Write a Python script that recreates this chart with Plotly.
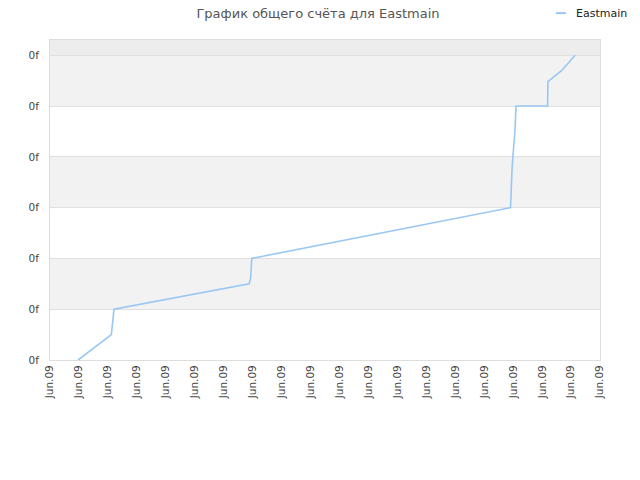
import plotly.graph_objects as go

# Score history for Eastmain (x in tick units, y in grid units)
score_x = [0.97, 2.12, 2.21, 6.88, 6.93, 6.97, 15.91, 15.93, 15.96, 15.99,
           16.06, 16.10, 17.19, 17.20, 17.68, 18.14]
score_y = [0.0, 0.5, 1.0, 1.5, 1.61, 2.0, 3.0, 3.5, 3.74, 4.0,
           4.49, 5.0, 5.0, 5.48, 5.7, 6.0]

x_ticks = list(range(20))
x_labels = ["Jun.09"] * 20
y_ticks = [0, 1, 2, 3, 4, 5, 6]
y_labels = ["0f"] * 7

line_color = "#99c7f4"

fig = go.Figure()
fig.add_trace(go.Scatter(
    x=score_x, y=score_y, mode="lines", name="Eastmain",
    line=dict(color=line_color, width=1.6), showlegend=False,
))

# alternating background bands
for lo in [1, 3, 5]:
    fig.add_shape(type="rect", xref="paper", yref="y", x0=0, x1=1, y0=lo, y1=lo + 1,
                  fillcolor="#f2f2f2", line_width=0, layer="below")
fig.add_shape(type="rect", xref="paper", yref="y", x0=0, x1=1, y0=6, y1=6.3,
              fillcolor="#ededed", line_width=0, layer="below")

# small legend in the top right corner
fig.add_shape(type="line", xref="paper", yref="paper", x0=0.92, x1=0.938, y0=1.084, y1=1.084,
              line=dict(color=line_color, width=2))
fig.add_annotation(text="Eastmain", xref="paper", yref="paper", x=0.953, y=1.084,
                   xanchor="left", yanchor="middle", showarrow=False,
                   font=dict(family="DejaVu Sans", size=11, color="#222222"))

fig.update_layout(
    width=640, height=480,
    margin=dict(l=50, r=40, t=40, b=120, autoexpand=False),
    paper_bgcolor="white", plot_bgcolor="white",
    font=dict(family="DejaVu Sans", size=10, color="#444444"),
    title=dict(text="График общего счёта для Eastmain", x=318 / 640, xanchor="center",
               xref="container", yref="container", y=1 - 13 / 480, yanchor="middle",
               font=dict(family="DejaVu Sans", size=13, color="#555555")),
    hovermode=False,
    xaxis=dict(range=[0, 19], tickmode="array", tickvals=x_ticks, ticktext=x_labels,
               tickangle=-90, showgrid=False, zeroline=False, automargin=False,
               showline=True, linecolor="#dddddd", mirror=True, ticks="",
               tickfont=dict(size=10.5)),
    yaxis=dict(range=[0, 6.3], tickmode="array", tickvals=y_ticks, ticktext=y_labels,
               showgrid=True, gridcolor="#e0e0e0", zeroline=False, automargin=False,
               showline=True, linecolor="#dddddd", mirror=True, ticks="",
               ticklabelstandoff=8, tickfont=dict(size=10.5)),
)

# drop the page's default body margin so the chart fills the window
fig.write_html("out.html", config={"displayModeBar": False},
               post_script="document.body.style.margin='0';")
